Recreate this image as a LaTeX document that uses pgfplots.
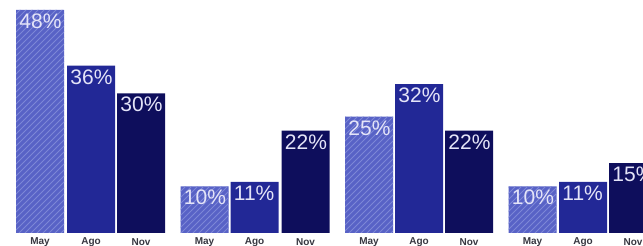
\documentclass[border=0pt]{standalone}
\usepackage{fontspec}
\setmainfont{Liberation Sans}
\usepackage{pgfplots}
\pgfplotsset{compat=1.18}
\usetikzlibrary{patterns}
\definecolor{cMay}{RGB}{88,98,198}
\definecolor{cMayS}{RGB}{125,135,215}
\definecolor{cAgo}{RGB}{34,40,150}
\definecolor{cNov}{RGB}{14,14,92}
\definecolor{cLab}{RGB}{228,228,248}
\definecolor{cCat}{RGB}{55,55,65}
\begin{document}
\begin{tikzpicture}
\begin{axis}[
  scale only axis, width=321.5pt, height=116.5pt,
  xmin=0, xmax=643, ymin=0, ymax=50.108,
  enlargelimits=false, clip=false,
  axis line style={draw=none}, major tick length=0pt,
  ytick=\empty,
  /pgf/number format/assume math mode=true,
  xtick={40,91,141,204.5,254.5,305.5,369,419,469,532.5,583,633},
  xticklabels={May,Ago,Nov,May,Ago,Nov,May,Ago,Nov,May,Ago,Nov},
  xticklabel style={font=\bfseries\fontsize{5pt}{6pt}\selectfont, text=cCat, anchor=center, yshift=-4.6pt},
  ybar, bar width=48, bar shift=0pt,
  nodes near coords={\pgfmathprintnumber{\pgfplotspointmeta}\%},
  point meta=y,
  every node near coord/.append style={anchor=north west, xshift=-11pt, yshift=-1.2pt,
    inner sep=0.5pt, text=cLab, font=\fontsize{10.5pt}{12pt}\selectfont},
]
\addplot[fill=cMay, draw=none, postaction={pattern=north east lines, pattern color=cMayS}] coordinates {(40,48) (204.5,10) (369,25) (532.5,10)};
\addplot[fill=cAgo, draw=none] coordinates {(91,36) (254.5,11) (419,32) (583,11)};
\addplot[fill=cNov, draw=none] coordinates {(141,30) (305.5,22) (469,22) (633,15)};
\coordinate (ll) at (axis cs:0,-2.796);
\coordinate (ur) at (axis cs:643,50.108);
\end{axis}
\pgfresetboundingbox
\useasboundingbox (ll) rectangle (ur);
\end{tikzpicture}
\end{document}
